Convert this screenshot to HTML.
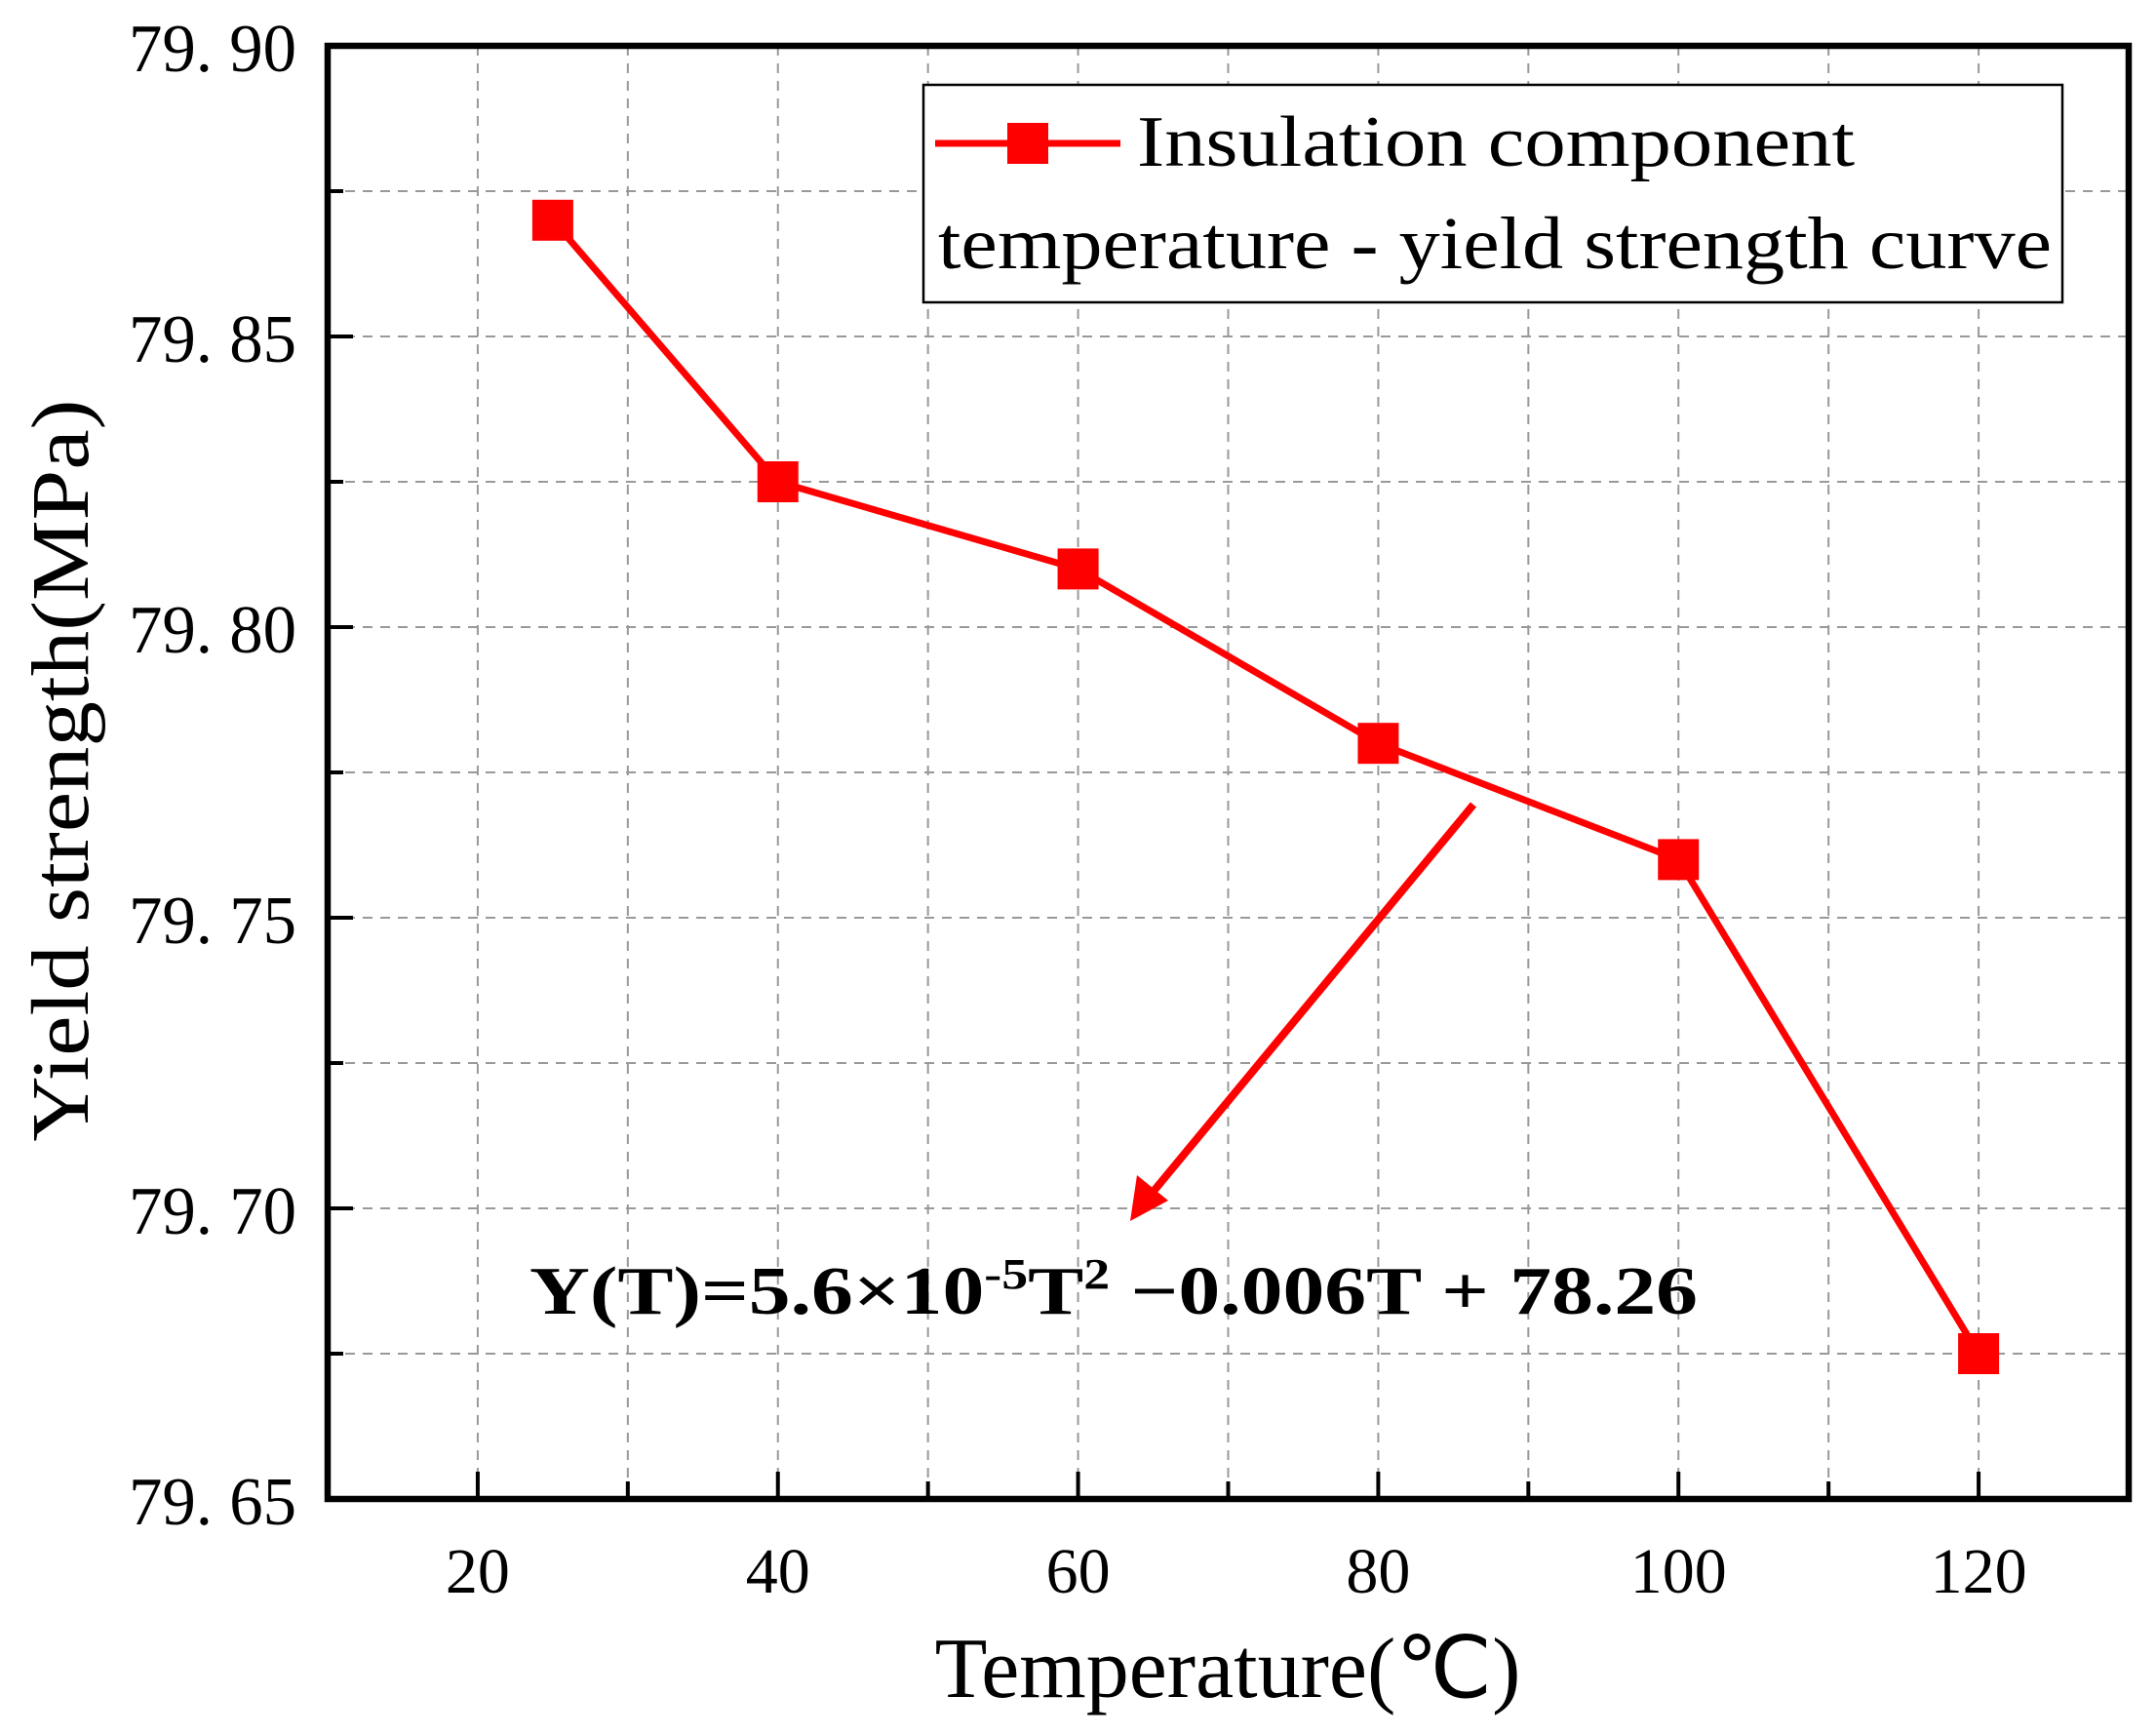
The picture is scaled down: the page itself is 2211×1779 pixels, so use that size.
<!DOCTYPE html>
<html><head><meta charset="utf-8"><style>
html,body{margin:0;padding:0;background:#fff;}
svg{display:block;}
text{font-family:"Liberation Serif",serif;fill:#000;}
</style></head><body>
<svg id="chart" width="2211" height="1779" viewBox="0 0 2211 1779">
<g id="grid"></g>
<g id="ticks"></g>
<g id="series"></g>
<rect x="336" y="47" width="1847" height="1490" fill="none" stroke="#000" stroke-width="6.5"/>
<g>
<rect x="947" y="87" width="1168" height="223" fill="#fff" stroke="#000" stroke-width="2.5"/>
<line x1="959" y1="147" x2="1149" y2="147" stroke="#f00" stroke-width="7"/>
<rect x="1033" y="126" width="42" height="42" fill="#f00"/>
<text x="1166" y="170" font-size="74" textLength="736" lengthAdjust="spacingAndGlyphs">Insulation component</text>
<text x="962" y="275" font-size="76" textLength="1142" lengthAdjust="spacingAndGlyphs">temperature - yield strength curve</text>
</g>
<line x1="1511" y1="825" x2="1180" y2="1225" stroke="#f00" stroke-width="8"/>
<polygon points="1159,1252 1166,1205 1198,1231" fill="#f00"/>
<text x="543" y="1347" font-size="70" font-weight="bold" textLength="1198" lengthAdjust="spacingAndGlyphs">Y(T)=5.6×10<tspan dy="-26" font-size="44">-5</tspan><tspan dy="26">T</tspan><tspan dy="-26" font-size="44">2</tspan><tspan dy="26"> −0.006T + 78.26</tspan></text>
<text x="1259" y="1740" font-size="88" text-anchor="middle">Temperature(℃)</text>
<text transform="translate(90,790) rotate(-90)" font-size="84" text-anchor="middle" textLength="761" lengthAdjust="spacingAndGlyphs">Yield strength(MPa)</text>
</svg>
<script>
const xCats=[25,40,60,80,100,120];
const yVals=[79.87,79.825,79.81,79.78,79.76,79.675];
const xTicks=[20,40,60,80,100,120];
const xTickLabels=["20","40","60","80","100","120"];
const yTicks=[79.65,79.70,79.75,79.80,79.85,79.90];
const yTickLabels=["79. 65","79. 70","79. 75","79. 80","79. 85","79. 90"];
const X0=10,X1=130,Y0=79.65,Y1=79.90;
const L=336,R=2183,T=47,B=1537;
const sx=v=>L+(v-X0)/(X1-X0)*(R-L);
const sy=v=>B-(v-Y0)/(Y1-Y0)*(B-T);
const NS="http://www.w3.org/2000/svg";
function mk(tag,attrs,parent){const e=document.createElementNS(NS,tag);for(const k in attrs)e.setAttribute(k,attrs[k]);parent.appendChild(e);return e;}
const grid=document.getElementById('grid'),ticks=document.getElementById('ticks'),series=document.getElementById('series');
for(let x=X0+10;x<X1;x+=10){
 const g=mk('line',{x1:sx(x),x2:sx(x),y1:T,y2:B,stroke:'#999','stroke-width':2,'stroke-dasharray':'10,8'},grid);
 
 
 const major=(x%20===0);
 const t=mk('line',{x1:sx(x),x2:sx(x),y1:B,y2:B-(major?28:18),stroke:'#000','stroke-width':4},ticks);
 
 
}
for(let i=1;i<10;i++){
 const v=Y0+i*0.025;
 const g=mk('line',{x1:L,x2:R,y1:sy(v),y2:sy(v),stroke:'#999','stroke-width':2,'stroke-dasharray':'10,8'},grid);
 
 
 const t=mk('line',{x1:L,x2:L+(i%2===0?26:16),y1:sy(v),y2:sy(v),stroke:'#000','stroke-width':4},ticks);
 
 
}
xTicks.forEach((v,i)=>{
 const t=mk('text',{x:sx(v),y:1633,'font-size':66,'text-anchor':'middle'},ticks);
 t.textContent=xTickLabels[i];
 
 
});
yTicks.forEach((v,i)=>{
 const t=mk('text',{x:304,y:sy(v)+26,'font-size':70,'text-anchor':'end',textLength:172,lengthAdjust:'spacingAndGlyphs'},ticks);
 t.textContent=yTickLabels[i];
 
 
});
const pts=xCats.map((x,i)=>sx(x)+','+sy(yVals[i])).join(' ');
const pl=mk('polyline',{points:pts,fill:'none',stroke:'#f00','stroke-width':7,'stroke-linejoin':'round'},series);


xCats.forEach((x,i)=>{
 const r=mk('rect',{x:sx(x)-21,y:sy(yVals[i])-21,width:42,height:42,fill:'#f00'},series);
 
 
});
</script>
</body></html>
